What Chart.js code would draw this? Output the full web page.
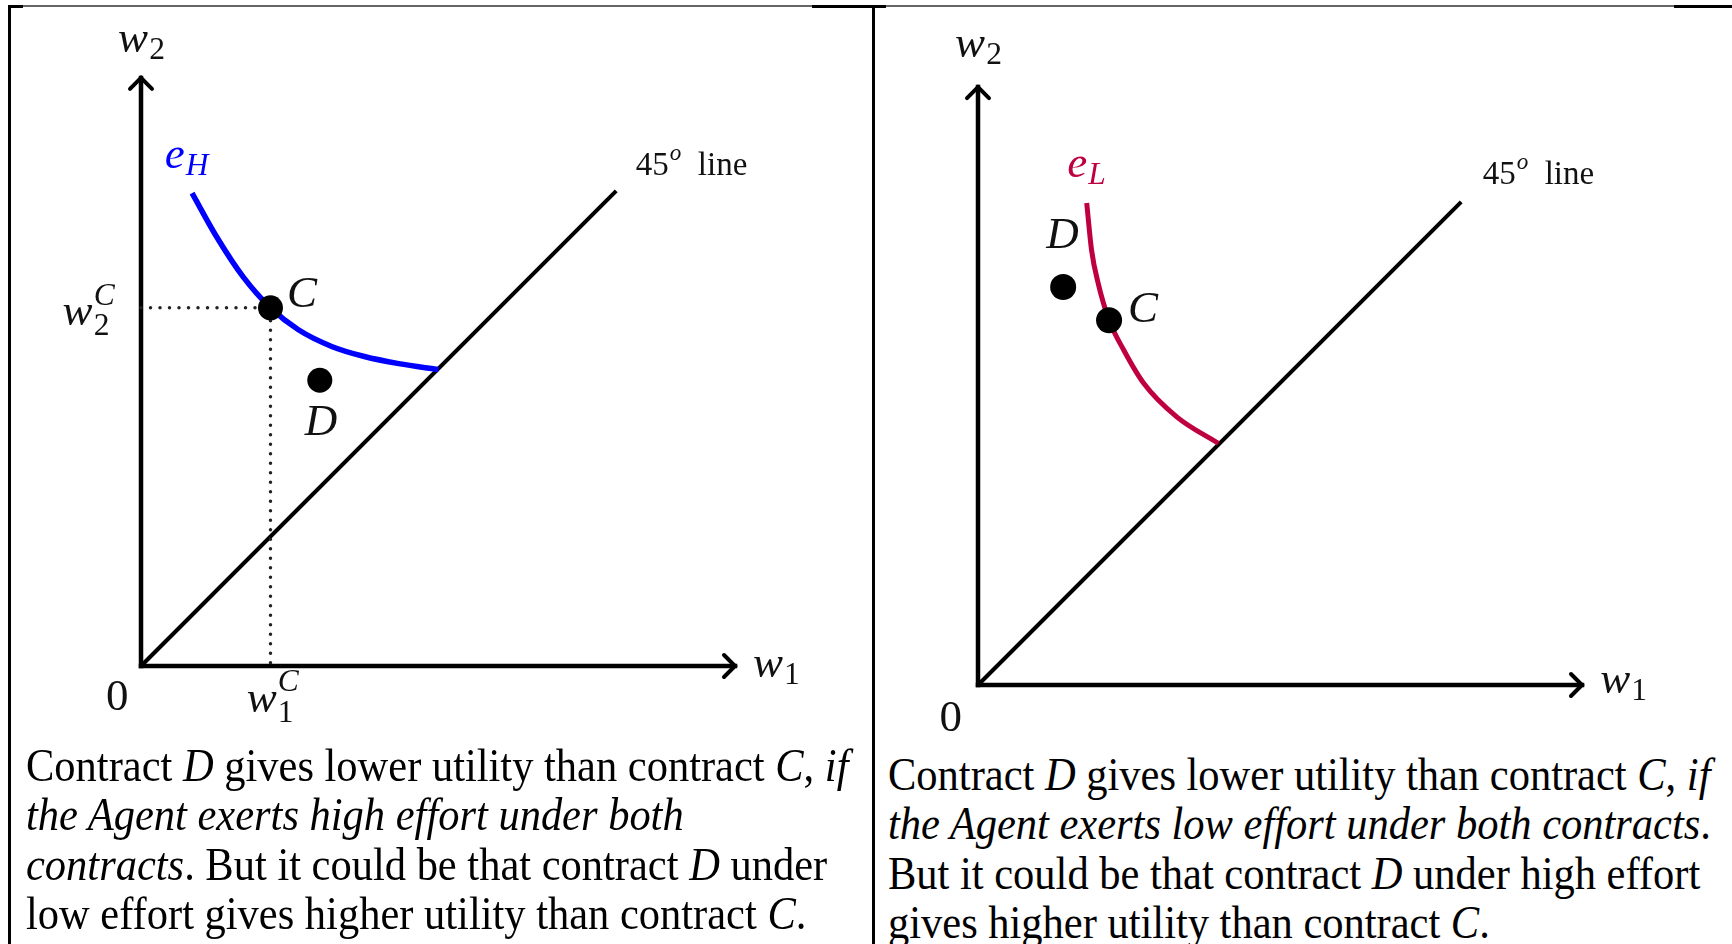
<!DOCTYPE html>
<html>
<head>
<meta charset="utf-8">
<script src="https://cdn.jsdelivr.net/npm/chart.js@4.4.1/dist/chart.umd.min.js"></script>
<style>
  html, body { margin: 0; padding: 0; background: #fff; }
  body { width: 1732px; height: 944px; position: relative; overflow: hidden; }
  canvas { position: absolute; top: 0; }
  #leftChart { left: 0; }
  #rightChart { left: 872px; }
  .note {
    position: absolute;
    font-family: "Liberation Serif", "Times New Roman", serif;
    font-size: 47px;
    line-height: 49.3px;
    white-space: nowrap;
    color: #000;
    transform: scaleX(0.904);
    transform-origin: 0 0;
  }
  .rule { position: absolute; background: #000; }
  .thin { position: absolute; background: #666; }
</style>
</head>
<body>
<canvas id="leftChart" width="870" height="740"></canvas>
<canvas id="rightChart" width="860" height="740"></canvas>

<div class="thin" style="left:8px; top:5px; width:1724px; height:2px;"></div>
<div class="rule" style="left:8px; top:5px; width:15px; height:3px;"></div>
<div class="rule" style="left:812px; top:5px; width:74px; height:3px;"></div>
<div class="rule" style="left:1674px; top:5px; width:58px; height:3px;"></div>
<div class="rule" style="left:8px; top:5px; width:3px; height:939px;"></div>
<div class="rule" style="left:872px; top:5px; width:3px; height:939px;"></div>

<div class="note" style="left:26px; top:741px;">
  Contract <i>D</i> gives lower utility than contract <i>C</i>, <i>if</i><br>
  <i>the Agent exerts high effort under both</i><br>
  <i>contracts</i>. But it could be that contract <i>D</i> under<br>
  low effort gives higher utility than contract <i>C</i>.
</div>
<div class="note" style="left:888px; top:750px;">
  Contract <i>D</i> gives lower utility than contract <i>C</i>, <i>if</i><br>
  <i>the Agent exerts low effort under both contracts</i>.<br>
  But it could be that contract <i>D</i> under high effort<br>
  gives higher utility than contract <i>C</i>.
</div>

<script>
// axes (same for both panels): w1 axis runs to 100, w2 axis to 99
var axisW1 = [0, 100];
var axisW2 = [0, 99];
var line45 = [0, 80];

// left panel: high effort indifference curve e_H
var highCurveW1 = [8.6, 12.7, 17.2, 21.8, 26.5, 32.1, 37.6, 43.4, 50.1];
var highCurveW2 = [79.6, 72.3, 65.5, 60.3, 56.6, 53.8, 52.1, 50.9, 49.9];
// contracts C and D
var highContractW1 = [21.8, 30.1];
var highContractW2 = [60.3, 48.1];

// right panel: low effort indifference curve e_L
var lowCurveW1 = [18.0, 18.8, 19.9, 21.7, 24.1, 27.4, 32.9, 39.8];
var lowCurveW2 = [79.8, 72.0, 66.5, 60.4, 55.5, 50.0, 44.4, 40.0];
var lowContractW1 = [21.7, 14.1];
var lowContractW2 = [60.4, 65.9];

var BLUE = '#0000ff';
var PURPLE = '#bf0040';

function zip(xs, ys) {
  var out = [];
  for (var i = 0; i < xs.length; i++) out.push({x: xs[i], y: ys[i]});
  return out;
}

// draws arrow heads on the axes and the math labels
var figureMarks = {
  id: 'figureMarks',
  afterDatasetsDraw: function(chart, args, opts) {
    var ctx = chart.ctx;
    var sx = chart.scales.x, sy = chart.scales.y;
    ctx.save();
    ctx.strokeStyle = '#000';
    ctx.lineWidth = 4;
    ctx.lineJoin = 'miter';
    ctx.lineCap = 'round';
    // w1 arrow
    var tx = sx.getPixelForValue(axisW1[1]), ty = sy.getPixelForValue(0);
    ctx.beginPath();
    ctx.moveTo(tx - 11, ty - 11);
    ctx.lineTo(tx, ty);
    ctx.lineTo(tx - 11, ty + 11);
    ctx.stroke();
    // w2 arrow
    tx = sx.getPixelForValue(0); ty = sy.getPixelForValue(axisW2[1]);
    ctx.beginPath();
    ctx.moveTo(tx - 11, ty + 11);
    ctx.lineTo(tx, ty);
    ctx.lineTo(tx + 11, ty + 11);
    ctx.stroke();

    (opts.labels || []).forEach(function(lb) {
      drawMath(ctx, sx.getPixelForValue(lb.x), sy.getPixelForValue(lb.y), lb);
    });
    ctx.restore();
  }
};

function fontFor(txt, size, forceRm) {
  var it = !forceRm && !/^[0-9 ]+$/.test(txt);
  return (it ? 'italic ' : '') + size + 'px "Liberation Serif", serif';
}

function drawMath(ctx, px, py, lb) {
  var size = lb.size || 45;
  var small = size * 0.7;
  ctx.fillStyle = lb.color || '#111';
  ctx.textBaseline = 'alphabetic';
  ctx.textAlign = 'left';
  var fBase = fontFor(lb.base, size, lb.rm);
  ctx.font = fBase;
  var wBase = ctx.measureText(lb.base).width;
  var wSub = 0, wSup = 0, wTail = 0;
  if (lb.sub) { ctx.font = fontFor(lb.sub, small); wSub = ctx.measureText(lb.sub).width; }
  if (lb.sup) { ctx.font = fontFor(lb.sup, small); wSup = ctx.measureText(lb.sup).width; }
  var fTail = size + 'px "Liberation Serif", serif';
  if (lb.tail) { ctx.font = fTail; wTail = ctx.measureText(lb.tail).width; }
  var total = wBase + Math.max(wSub, wSup) + wTail;
  var x = px - total / 2;
  ctx.font = fBase;
  ctx.fillText(lb.base, x, py);
  x += wBase + 1;
  if (lb.sup) {
    ctx.font = fontFor(lb.sup, small);
    ctx.fillText(lb.sup, x, py - size * 0.45);
  }
  if (lb.sub) {
    ctx.font = fontFor(lb.sub, small);
    ctx.fillText(lb.sub, x, py + size * (lb.sup ? 0.22 : 0.15));
  }
  x += Math.max(wSub, wSup);
  if (lb.tail) {
    ctx.font = fTail;
    ctx.fillText(lb.tail, x, py);
  }
}

function axisSets() {
  return [
    {
      data: [{x: axisW1[0], y: 0}, {x: axisW1[1], y: 0}],
      borderColor: '#000', borderWidth: 4.5, borderCapStyle: 'square',
      pointRadius: 0, showLine: true, clip: false, order: 5
    },
    {
      data: [{x: 0, y: axisW2[0]}, {x: 0, y: axisW2[1]}],
      borderColor: '#000', borderWidth: 4.5, borderCapStyle: 'square',
      pointRadius: 0, showLine: true, clip: false, order: 5
    },
    {
      data: zip(line45, line45),
      borderColor: '#000', borderWidth: 4,
      pointRadius: 0, showLine: true, clip: false, order: 4
    }
  ];
}

function makeChart(id, padding, sets, labels) {
  return new Chart(document.getElementById(id), {
    type: 'scatter',
    data: { datasets: axisSets().concat(sets) },
    options: {
      responsive: false,
      animation: false,
      devicePixelRatio: 1,
      layout: { padding: padding },
      scales: {
        x: { type: 'linear', min: 0, max: 100, display: false },
        y: { type: 'linear', min: 0, max: 100, display: false }
      },
      plugins: {
        legend: { display: false },
        tooltip: { enabled: false },
        figureMarks: { labels: labels }
      }
    },
    plugins: [figureMarks]
  });
}

// left: high effort
makeChart('leftChart', {left: 141, right: 135, top: 72, bottom: 74}, [
  {
    data: [{x: 0, y: highContractW2[0]}, {x: highContractW1[0], y: highContractW2[0]}, {x: highContractW1[0], y: 0}],
    borderColor: '#222', borderWidth: 3.5, borderDash: [0, 9.5], borderCapStyle: 'round',
    pointRadius: 0, showLine: true, clip: false, order: 3
  },
  {
    data: zip(highCurveW1, highCurveW2),
    borderColor: BLUE, borderWidth: 5.5, cubicInterpolationMode: 'monotone',
    pointRadius: 0, showLine: true, clip: false, order: 2
  },
  {
    data: zip(highContractW1, highContractW2),
    pointRadius: 12.5, pointBackgroundColor: '#000', pointBorderWidth: 0,
    showLine: false, clip: false, order: 1
  }
], [
  {x: 0, y: 103.4, base: 'w', sub: '2'},
  {x: 7.6, y: 83.8, base: 'e', sub: 'H', color: BLUE},
  {x: 92.6, y: 82.7, base: '45', rm: true, sup: 'o', tail: '  line', size: 33},
  {x: -8.9, y: 57.4, base: 'w', sub: '2', sup: 'C'},
  {x: 27.1, y: 60.4, base: 'C'},
  {x: 30.3, y: 38.9, base: 'D'},
  {x: -4.0, y: -7.4, base: '0', rm: true},
  {x: 22.1, y: -7.7, base: 'w', sub: '1', sup: 'C'},
  {x: 106.9, y: -1.9, base: 'w', sub: '1'}
]);

// right: low effort
makeChart('rightChart', {left: 106, right: 150, top: 81, bottom: 55}, [
  {
    data: zip(lowCurveW1, lowCurveW2),
    borderColor: PURPLE, borderWidth: 5, cubicInterpolationMode: 'monotone',
    pointRadius: 0, showLine: true, clip: false, order: 2
  },
  {
    data: zip(lowContractW1, lowContractW2),
    pointRadius: 13, pointBackgroundColor: '#000', pointBorderWidth: 0,
    showLine: false, clip: false, order: 1
  }
], [
  {x: 0, y: 104, base: 'w', sub: '2'},
  {x: 17.9, y: 84.1, base: 'e', sub: 'L', color: PURPLE},
  {x: 92.7, y: 82.9, base: '45', rm: true, sup: 'o', tail: '  line', size: 33},
  {x: 14.0, y: 72.4, base: 'D'},
  {x: 27.3, y: 60.1, base: 'C'},
  {x: -4.5, y: -7.6, base: '0', rm: true},
  {x: 106.8, y: -1.3, base: 'w', sub: '1'}
]);
</script>
</body>
</html>
